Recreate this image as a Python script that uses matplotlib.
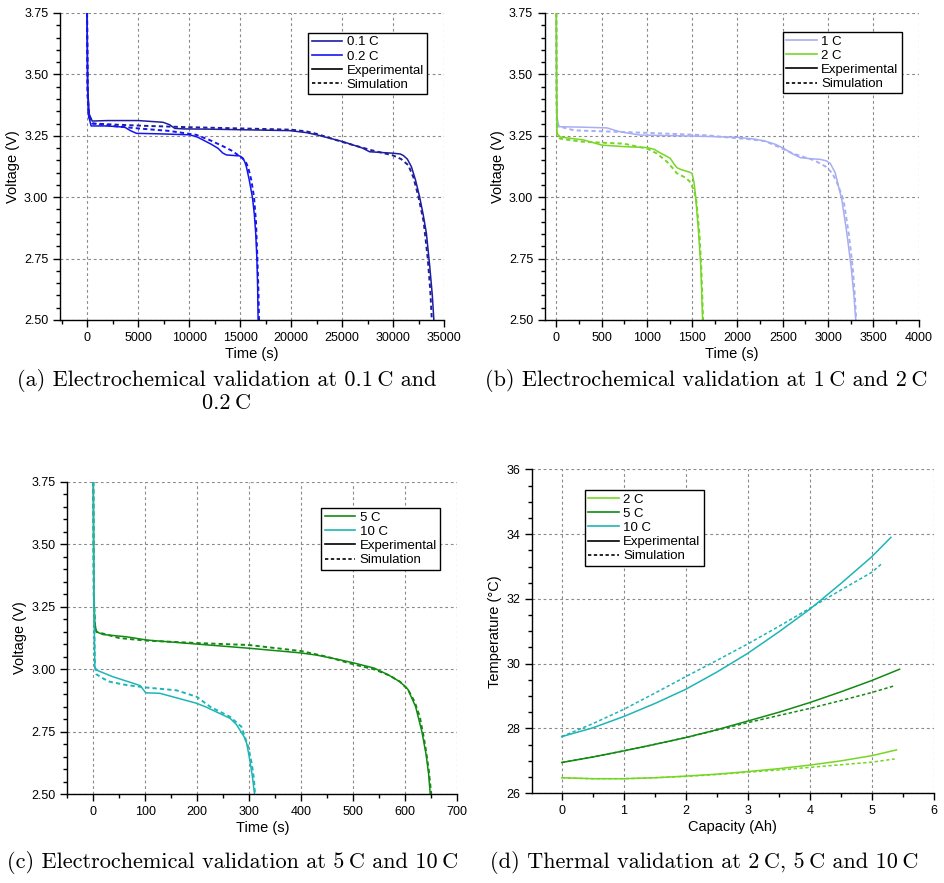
import numpy as np
import matplotlib
matplotlib.use('Agg')
import matplotlib.pyplot as plt
from matplotlib.ticker import MultipleLocator, FormatStrFormatter

plt.rcParams['font.family'] = ['Liberation Sans Narrow', 'Liberation Sans', 'DejaVu Sans']

# (a) 0.1 C and 0.2 C discharge, voltage vs time (s)
t01_exp = [0, 60, 200, 500, 2000, 5000, 7450, 8100, 8600, 9500, 12000, 16000, 19870, 21500, 22500, 25100, 27000, 27700, 30000, 30700, 31000, 31400,
           31800, 32200, 32600, 32950, 33270, 33600, 33850, 34000]
v01_exp = [3.75, 3.45, 3.34, 3.31, 3.312, 3.312, 3.305, 3.295, 3.28, 3.278, 3.277, 3.274, 3.271, 3.263, 3.254, 3.226, 3.20, 3.185, 3.179, 3.176, 3.17, 3.155,
           3.124, 3.07, 3.002, 2.93, 2.853, 2.717, 2.60, 2.50]
t01_sim = [0, 60, 200, 600, 3000, 6000, 10000, 15000, 20000, 21500, 22500, 25000, 28000, 30000, 30800, 31500, 32000, 32500, 33000, 33400, 33650, 33800]
v01_sim = [3.75, 3.42, 3.33, 3.30, 3.295, 3.29, 3.285, 3.28, 3.275, 3.268, 3.258, 3.225, 3.19, 3.17, 3.155, 3.13, 3.08, 3.0, 2.90, 2.75, 2.62, 2.50]
t02_exp = [0, 50, 150, 400, 2000, 3700, 4200, 4840, 7000, 10070, 10800, 11370, 12200, 12840, 13300, 13660, 14970, 15250, 15450, 15620, 15900,
           16210, 16400, 16540, 16650, 16720, 16770]
v02_exp = [3.75, 3.45, 3.33, 3.29, 3.29, 3.285, 3.272, 3.26, 3.258, 3.254, 3.245, 3.233, 3.215, 3.199, 3.18, 3.172, 3.168, 3.16, 3.145, 3.124, 3.07,
           3.0, 2.93, 2.85, 2.75, 2.64, 2.50]
t02_sim = [0, 50, 150, 500, 2500, 5000, 8000, 10700, 12000, 13200, 14160, 15200, 15550, 15800, 16100, 16370, 16560, 16700, 16800, 16860]
v02_sim = [3.75, 3.42, 3.33, 3.30, 3.29, 3.28, 3.27, 3.254, 3.233, 3.21, 3.19, 3.16, 3.145, 3.12, 3.07, 3.0, 2.90, 2.75, 2.62, 2.50]

# (b) 1 C and 2 C
t1_exp = [0, 4, 10, 30, 300, 560, 706, 927, 1479, 1995, 2200, 2326, 2420, 2510, 2600, 2692, 2800, 2913, 2980, 3023, 3078, 3152, 3207,
          3254, 3285, 3305]
v1_exp = [3.75, 3.45, 3.32, 3.287, 3.285, 3.282, 3.266, 3.253, 3.249, 3.244, 3.236, 3.226, 3.215, 3.199, 3.178, 3.161, 3.157, 3.154, 3.148, 3.138,
          3.10, 2.989, 2.853, 2.717, 2.60, 2.50]
t1_sim = [0, 4, 10, 200, 1000, 1663, 1900, 2100, 2300, 2450, 2600, 2692, 2850, 2976, 3040, 3087, 3170, 3227, 3271, 3295, 3310]
v1_sim = [3.75, 3.42, 3.29, 3.272, 3.262, 3.252, 3.243, 3.237, 3.229, 3.205, 3.18, 3.168, 3.15, 3.124, 3.10, 3.07, 2.989, 2.853, 2.717, 2.60, 2.50]
t2_exp = [0, 3, 8, 44, 302, 504, 743, 1000, 1080, 1148, 1200, 1258, 1300, 1332, 1380, 1424, 1470, 1498, 1520, 1534, 1552, 1571, 1595, 1615]
v2_exp = [3.75, 3.40, 3.26, 3.245, 3.233, 3.212, 3.206, 3.202, 3.195, 3.18, 3.17, 3.158, 3.135, 3.12, 3.112, 3.107, 3.102, 3.097, 3.06, 3.016,
          2.94, 2.853, 2.717, 2.50]
t2_sim = [0, 3, 8, 44, 280, 500, 743, 1000, 1110, 1220, 1280, 1332, 1424, 1470, 1500, 1525, 1545, 1580, 1602, 1620]
v2_sim = [3.75, 3.40, 3.25, 3.238, 3.226, 3.222, 3.218, 3.198, 3.178, 3.145, 3.12, 3.097, 3.080, 3.065, 3.043, 3.02, 2.989, 2.853, 2.70, 2.50]

# (c) 5 C and 10 C
t5_exp = [0, 1, 3, 6, 19, 64, 103, 199, 301, 397, 429, 470, 500, 540, 568, 590, 605, 620, 632, 640, 645, 648]
v5_exp = [3.75, 3.30, 3.184, 3.15, 3.139, 3.130, 3.117, 3.101, 3.084, 3.066, 3.057, 3.04, 3.026, 3.005, 2.977, 2.95, 2.92, 2.85, 2.75, 2.66, 2.58, 2.50]
t5_sim = [0, 1, 3, 6, 50, 100, 200, 300, 400, 450, 500, 540, 570, 590, 605, 618, 628, 638, 645, 650]
v5_sim = [3.75, 3.30, 3.18, 3.15, 3.125, 3.115, 3.105, 3.097, 3.073, 3.05, 3.02, 3.0, 2.975, 2.95, 2.92, 2.87, 2.81, 2.70, 2.60, 2.50]
t10_exp = [0, 1, 3, 6, 38, 77, 90, 101, 128, 160, 199, 218, 263, 275, 282, 290, 295, 301, 306, 310]
v10_exp = [3.75, 3.30, 3.010, 2.997, 2.970, 2.944, 2.935, 2.906, 2.904, 2.886, 2.864, 2.848, 2.804, 2.78, 2.757, 2.73, 2.704, 2.637, 2.57, 2.504]
t10_sim = [0, 1, 3, 6, 20, 32, 64, 103, 160, 199, 225, 263, 285, 298, 305, 309, 311]
v10_sim = [3.75, 3.30, 3.01, 2.98, 2.962, 2.95, 2.937, 2.927, 2.916, 2.89, 2.85, 2.81, 2.77, 2.69, 2.62, 2.56, 2.50]

# (d) temperature (°C) vs capacity (Ah)
cap_exp2 = [0, 0.5, 1, 1.5, 2, 2.5, 3, 3.5, 4, 4.5, 5, 5.40]
T2_exp = [26.48, 26.45, 26.45, 26.48, 26.53, 26.59, 26.67, 26.76, 26.87, 27.0, 27.16, 27.34]
cap_sim2 = [0, 0.5, 1, 1.5, 2, 2.5, 3, 3.5, 4, 4.5, 5, 5.37]
T2_sim = [26.48, 26.45, 26.45, 26.48, 26.52, 26.58, 26.65, 26.72, 26.80, 26.88, 26.96, 27.06]
cap_exp5 = [0, 0.5, 1, 1.5, 2, 2.5, 3, 3.5, 4, 4.5, 5, 5.45]
T5_exp = [26.95, 27.12, 27.31, 27.51, 27.72, 27.96, 28.23, 28.50, 28.80, 29.13, 29.48, 29.83]
cap_sim5 = [0, 0.5, 1, 1.5, 2, 2.5, 3, 3.5, 4, 4.5, 5, 5.37]
T5_sim = [26.95, 27.12, 27.31, 27.51, 27.72, 27.95, 28.18, 28.40, 28.62, 28.86, 29.11, 29.32]
cap_exp10 = [0, 0.5, 1, 1.5, 2, 2.5, 3, 3.5, 4, 4.5, 5, 5.31]
T10_exp = [27.75, 28.02, 28.37, 28.77, 29.21, 29.74, 30.32, 30.98, 31.68, 32.47, 33.30, 33.90]
cap_sim10 = [0, 0.5, 1, 1.5, 2, 2.5, 3, 3.5, 4, 4.5, 5, 5.17]
T10_sim = [27.75, 28.15, 28.59, 29.09, 29.60, 30.10, 30.61, 31.15, 31.71, 32.27, 32.82, 33.10]

c01 = '#1e1e9e'
c02 = '#1515ee'
c1 = '#a8aef2'
c2 = '#77d625'
c5 = '#138a13'
c10 = '#1fb5b5'

fs = 9
dash = (0, (2.2, 1.6))


def style(ax, xlim, ylim, xmaj, xmin, ymaj, ymin, xlab, ylab):
    ax.set_xlim(*xlim)
    ax.set_ylim(*ylim)
    ax.xaxis.set_major_locator(MultipleLocator(xmaj))
    ax.xaxis.set_minor_locator(MultipleLocator(xmin))
    ax.yaxis.set_major_locator(MultipleLocator(ymaj))
    ax.yaxis.set_minor_locator(MultipleLocator(ymin))
    for s in ['top', 'right']:
        ax.spines[s].set_visible(False)
    for s in ['left', 'bottom']:
        ax.spines[s].set_linewidth(1.0)
    ax.tick_params(which='major', direction='out', length=5, width=1, labelsize=fs)
    ax.tick_params(which='minor', direction='out', length=3, width=1)
    ax.grid(True, which='major', color='#8a8a8a', linestyle=(0, (2.5, 2.5)), linewidth=0.8)
    ax.set_axisbelow(True)
    ax.set_xlabel(xlab, fontsize=10.5, labelpad=2)
    ax.set_ylabel(ylab, fontsize=10.5, labelpad=3)


def legend(ax, names, colors, loc, anchor):
    hs = [plt.Line2D([], [], color=c, lw=1.2) for c in colors]
    hs += [plt.Line2D([], [], color='k', lw=1.2), plt.Line2D([], [], color='k', lw=1.2, ls=(0, (2, 1.5)))]
    leg = ax.legend(hs, names + ['Experimental', 'Simulation'], loc=loc, bbox_to_anchor=anchor,
                    fontsize=9.5, frameon=True, fancybox=False, framealpha=1, edgecolor='k',
                    handlelength=2.3, handletextpad=0.35, labelspacing=0.15, borderpad=0.25,
                    borderaxespad=0)
    leg.get_frame().set_linewidth(1.0)


fig = plt.figure(figsize=(9.44, 8.83), dpi=100)

# (a)
ax = fig.add_axes([0.0636, 0.6376, 0.4068, 0.3477])
ax.plot(t01_exp, v01_exp, color=c01, lw=1.1)
ax.plot(t01_sim, v01_sim, color=c01, lw=1.4, ls=dash)
ax.plot(t02_exp, v02_exp, color=c02, lw=1.1)
ax.plot(t02_sim, v02_sim, color=c02, lw=1.4, ls=dash)
style(ax, (-2650, 35000), (2.5, 3.75), 5000, 2500, 0.25, 0.05, 'Time (s)', 'Voltage (V)')
ax.yaxis.set_major_formatter(FormatStrFormatter('%.2f'))
legend(ax, ['0.1 C', '0.2 C'], [c01, c02], 'upper right', (0.956, 0.935))

# (b)
ax = fig.add_axes([0.5773, 0.6376, 0.3959, 0.3477])
ax.plot(t1_exp, v1_exp, color=c1, lw=1.1)
ax.plot(t1_sim, v1_sim, color=c1, lw=1.4, ls=dash)
ax.plot(t2_exp, v2_exp, color=c2, lw=1.1)
ax.plot(t2_sim, v2_sim, color=c2, lw=1.4, ls=dash)
style(ax, (-125, 4000), (2.5, 3.75), 500, 250, 0.25, 0.05, 'Time (s)', 'Voltage (V)')
ax.yaxis.set_major_formatter(FormatStrFormatter('%.2f'))
legend(ax, ['1 C', '2 C'], [c1, c2], 'upper right', (0.955, 0.938))

# (c)
ax = fig.add_axes([0.0713, 0.1004, 0.4131, 0.354])
ax.plot(t5_exp, v5_exp, color=c5, lw=1.1)
ax.plot(t5_sim, v5_sim, color=c5, lw=1.4, ls=dash)
ax.plot(t10_exp, v10_exp, color=c10, lw=1.1)
ax.plot(t10_sim, v10_sim, color=c10, lw=1.4, ls=dash)
style(ax, (-50, 700), (2.5, 3.75), 100, 50, 0.25, 0.05, 'Time (s)', 'Voltage (V)')
ax.yaxis.set_major_formatter(FormatStrFormatter('%.2f'))
legend(ax, ['5 C', '10 C'], [c5, c10], 'upper right', (0.956, 0.916))

# (d)
ax = fig.add_axes([0.5636, 0.1016, 0.4255, 0.3669])
ax.plot(cap_exp2, T2_exp, color=c2, lw=1.1)
ax.plot(cap_sim2, T2_sim, color=c2, lw=1.1, ls=dash)
ax.plot(cap_exp5, T5_exp, color=c5, lw=1.1)
ax.plot(cap_sim5, T5_sim, color=c5, lw=1.1, ls=dash)
ax.plot(cap_exp10, T10_exp, color=c10, lw=1.1)
ax.plot(cap_sim10, T10_sim, color=c10, lw=1.1, ls=dash)
style(ax, (-0.48, 6), (26, 36), 1, 0.5, 2, 0.5, 'Capacity (Ah)', 'Temperature (°C)')
legend(ax, ['2 C', '5 C', '10 C'], [c2, c5, c10], 'upper left', (0.132, 0.936))

# captions
cap_kw = dict(family=['cmr10', 'DejaVu Serif'], fontsize=16, ha='center', va='top')
fig.text(0.240, 1 - 369 / 883, '(a) Electrochemical validation at 0.1\u2009C and\n0.2\u2009C',
         linespacing=1.1, **cap_kw)
fig.text(0.748, 1 - 369 / 883, '(b) Electrochemical validation at 1\u2009C and 2\u2009C', **cap_kw)
fig.text(0.246, 1 - 851 / 883, '(c) Electrochemical validation at 5\u2009C and 10\u2009C', **cap_kw)
fig.text(0.746, 1 - 851 / 883, '(d) Thermal validation at 2\u2009C, 5\u2009C and 10\u2009C', **cap_kw)

plt.savefig('out.png', dpi=100)
plt.close()
